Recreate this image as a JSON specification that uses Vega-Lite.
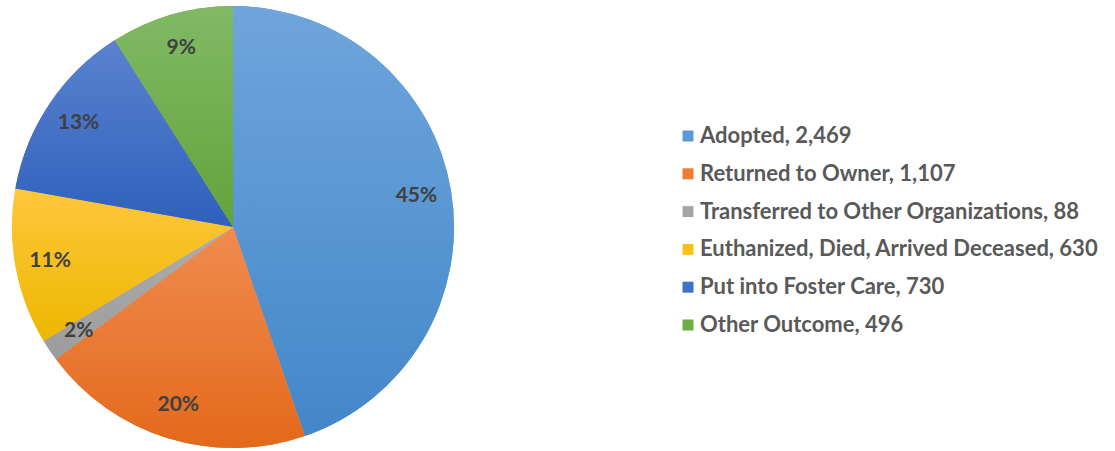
{
  "$schema": "https://vega.github.io/schema/vega-lite/v6.json",
  "width": 466,
  "height": 454,
  "padding": 0,
  "background": "white",
  "data": {
    "values": [
      {"order": 1, "label": "Adopted, 2,469", "count": 2469, "pct": "45%"},
      {"order": 2, "label": "Returned to Owner, 1,107", "count": 1107, "pct": "20%"},
      {"order": 3, "label": "Transferred to Other Organizations, 88", "count": 88, "pct": "2%"},
      {"order": 4, "label": "Euthanized, Died, Arrived Deceased, 630", "count": 630, "pct": "11%"},
      {"order": 5, "label": "Put into Foster Care, 730", "count": 730, "pct": "13%"},
      {"order": 6, "label": "Other Outcome, 496", "count": 496, "pct": "9%"}
    ]
  },
  "encoding": {
    "theta": {"field": "count", "type": "quantitative", "stack": true},
    "order": {"field": "order", "type": "quantitative"}
  },
  "layer": [
    {
      "mark": {"type": "arc", "outerRadius": 221},
      "encoding": {
        "color": {
          "field": "label",
          "type": "nominal",
          "scale": {
            "domain": ["Adopted, 2,469", "Returned to Owner, 1,107", "Transferred to Other Organizations, 88", "Euthanized, Died, Arrived Deceased, 630", "Put into Foster Care, 730", "Other Outcome, 496"],
            "range": ["#5A9AD6", "#EE7B32", "#A5A5A5", "#FBC01A", "#4270C6", "#70AD47"]
          },
          "legend": {
            "title": null,
            "orient": "none",
            "legendX": 677,
            "legendY": 125,
            "symbolType": "square",
            "symbolSize": 121,
            "symbolStrokeWidth": 0,
            "labelFont": "Lato",
            "labelFontWeight": "bold",
            "labelFontSize": 22,
            "labelColor": "#595959",
            "labelOffset": 1,
            "labelLimit": 0,
            "rowPadding": 15.8
          }
        }
      }
    },
    {
      "mark": {"type": "arc", "outerRadius": 221},
      "encoding": {
        "fill": {
          "condition": [
            {"test": "datum.order == 1", "value": {"gradient": "linear", "x1": 0, "y1": 0, "x2": 0, "y2": 1, "stops": [{"offset": 0, "color": "#6FA5DC"}, {"offset": 1, "color": "#4387C9"}]}},
            {"test": "datum.order == 2", "value": {"gradient": "linear", "x1": 0, "y1": 0, "x2": 0, "y2": 1, "stops": [{"offset": 0, "color": "#F08C50"}, {"offset": 1, "color": "#E3691B"}]}},
            {"test": "datum.order == 3", "value": {"gradient": "linear", "x1": 0, "y1": 0, "x2": 0, "y2": 1, "stops": [{"offset": 0, "color": "#ADADAD"}, {"offset": 1, "color": "#9C9C9C"}]}},
            {"test": "datum.order == 4", "value": {"gradient": "linear", "x1": 0, "y1": 0, "x2": 0, "y2": 1, "stops": [{"offset": 0, "color": "#FFC73D"}, {"offset": 1, "color": "#EDB700"}]}},
            {"test": "datum.order == 5", "value": {"gradient": "linear", "x1": 0, "y1": 0, "x2": 0, "y2": 1, "stops": [{"offset": 0, "color": "#5B82CF"}, {"offset": 1, "color": "#2E60BC"}]}}
          ],
          "value": {"gradient": "linear", "x1": 0, "y1": 0, "x2": 0, "y2": 1, "stops": [{"offset": 0, "color": "#81B965"}, {"offset": 1, "color": "#63A33B"}]}
        }
      }
    },
    {
      "mark": {"type": "text", "radius": 186, "font": "Lato", "fontWeight": "bold", "fontSize": 21, "color": "#404040"},
      "encoding": {
        "text": {"field": "pct", "type": "nominal"}
      }
    }
  ],
  "config": {"view": {"stroke": null}}
}
